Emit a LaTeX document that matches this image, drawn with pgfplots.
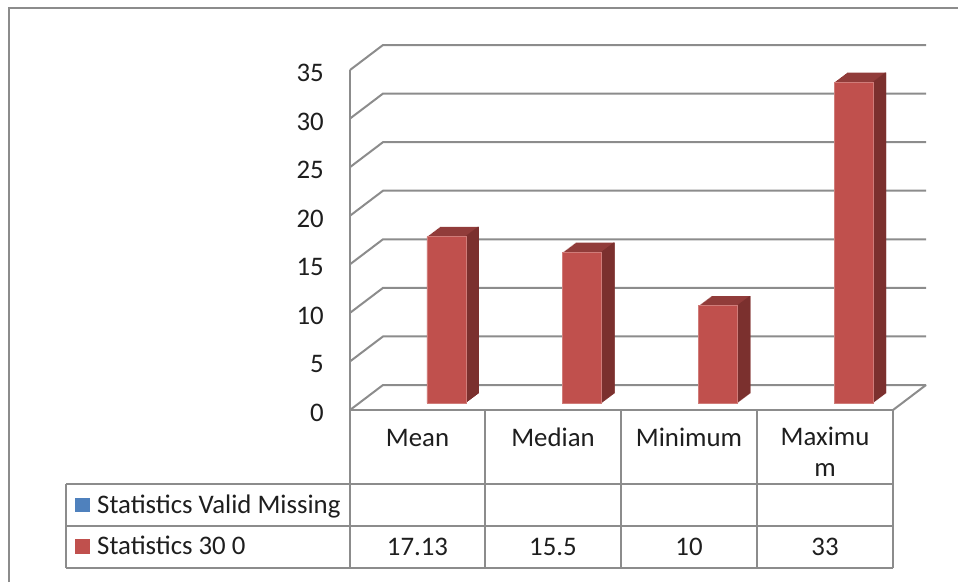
\documentclass[border=0pt]{standalone}
\usepackage{fontspec}
\setmainfont{Carlito}
\usepackage{pgfplots}
\usepackage{pgfplotstable}
\pgfplotsset{compat=1.18}

\definecolor{barfront}{HTML}{C0504D}
\definecolor{bartop}{HTML}{913C3A}
\definecolor{barside}{HTML}{7B302E}
\definecolor{gridgray}{HTML}{8C8C8C}
\definecolor{serblue}{HTML}{4F81BD}
\definecolor{txt}{HTML}{1E1E1E}

% category position (column centre) and value of "Statistics 30 0"
\pgfplotstableread{
x   val
0.5 17.13
1.5 15.5
2.5 10
3.5 33
}\stats

\newcommand{\bigfont}{\fontsize{26.8}{32}\selectfont}

\begin{document}
\begin{tikzpicture}[x=1pt,y=1pt]
\path[use as bounding box] (0,0) rectangle (958,-582);
% chart area frame
\draw[gridgray, line width=2pt] (9,-582) -- (9,-8) -- (958,-8);

\begin{axis}[
  at={(350pt,-410pt)}, anchor=south west,
  scale only axis, width=543pt, height=340pt,
  xmin=0, xmax=4, ymin=0, ymax=35,
  clip=false,
  axis line style={draw=none},
  xtick=\empty,
  ytick={0,5,...,35},
  major tick length=0pt,
  /pgf/number format/assume math mode=true,
  yticklabel style={anchor=east, inner sep=0pt, xshift=-26pt, yshift=-3pt,
    font=\bigfont, text=txt},
]
% back wall gridlines with their side-wall diagonals
\pgfplotsinvokeforeach{0,5,...,35}{
  \draw[gridgray, line width=2pt] (axis cs:0,#1) -- ++(33pt,25pt) -- ++(543pt,0pt);
}
\draw[gridgray, line width=2pt] (axis cs:0,0) -- (axis cs:0,35);
\draw[gridgray, line width=2pt] (axis cs:4,0) -- ++(33pt,25pt);

% depth of the columns: top faces
\pgfplotsinvokeforeach{1,...,13}{
  \addplot[ybar, bar width=39pt, bar shift=19.6pt, fill=bartop, draw=none,
    xshift={9pt+#1pt}, yshift={7pt+0.75*#1pt}]
    table[x=x, y=val] {\stats};
}
% depth of the columns: right side faces
\pgfplotsinvokeforeach{1,...,13}{
  \addplot[ybar, bar width=1.5pt, bar shift=38.35pt, fill=barside, draw=none,
    xshift={9pt+#1pt}, yshift={7pt+0.75*#1pt}]
    table[x=x, y=val] {\stats};
}
% front faces
\addplot[ybar, bar width=39pt, bar shift=19.6pt, fill=barfront,
  draw=barfront!75!white, line width=0.8pt, xshift=9pt, yshift=7pt]
  table[x=x, y=val] {\stats};
\end{axis}

% data table
\begin{scope}[gridgray, line width=2pt]
  \draw (350,-410) -- (893,-410);
  \foreach \xx in {350,485,621,757,893} \draw (\xx,-410) -- (\xx,-568);
  \foreach \yy in {-484,-526,-568} \draw (66,\yy) -- (893,\yy);
  \draw (66,-484) -- (66,-568);
\end{scope}

\begin{scope}[every node/.style={font=\bigfont, text=txt, inner sep=0pt}]
  \node[anchor=base] at (417.5,-446) {Mean};
  \node[anchor=base] at (553,-446) {Median};
  \node[anchor=base] at (689,-446) {Minimum};
  \node[anchor=base] at (825,-445) {Maximu};
  \node[anchor=base] at (825,-476) {m};

  \node[anchor=base] at (417.5,-555) {17.13};
  \node[anchor=base] at (553,-555) {15.5};
  \node[anchor=base] at (689,-555) {10};
  \node[anchor=base] at (825,-555) {33};

  \fill[serblue] (75,-498) rectangle (90,-512);
  \node[anchor=base west] at (97,-513) {Statistics Valid Missing};
  \fill[barfront] (75,-539) rectangle (90,-554);
  \node[anchor=base west] at (97,-554) {Statistics 30 0};
\end{scope}
\end{tikzpicture}
\end{document}
